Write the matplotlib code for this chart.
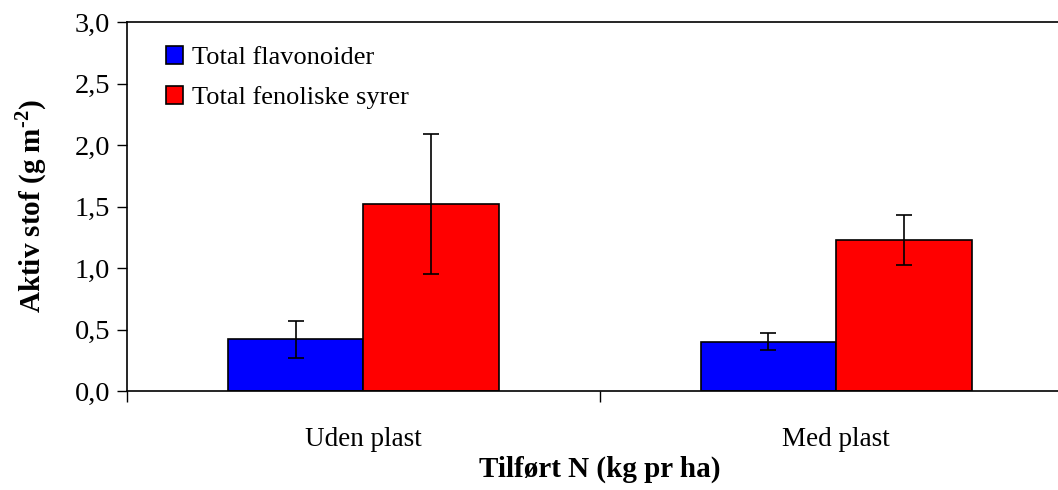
import numpy as np
import matplotlib
matplotlib.use("Agg")
import matplotlib.pyplot as plt
from matplotlib.ticker import FixedLocator, FuncFormatter

# data
categories = ["Uden plast", "Med plast"]
series = ["Total flavonoider", "Total fenoliske syrer"]
flavonoider = [0.42, 0.40]
flavonoider_err = [0.15, 0.07]
fenoliske = [1.52, 1.23]
fenoliske_err = [0.57, 0.205]
colors = ["#0000FF", "#FF0000"]

plt.rcParams["font.family"] = ["Liberation Serif", "DejaVu Serif"]
plt.rcParams["mathtext.fontset"] = "custom"
plt.rcParams["mathtext.rm"] = "Liberation Serif"
plt.rcParams["mathtext.bf"] = "Liberation Serif:bold"

fig = plt.figure(figsize=(10.58, 4.90), dpi=100)
ax = fig.add_axes([0.120, 0.202, 0.894, 0.753])

x = np.arange(len(categories)) + 0.5
w = 0.287
err_kw = dict(ecolor="black", elinewidth=1.2, capsize=6, capthick=1.2)
ax.bar(x - w / 2, flavonoider, w, yerr=flavonoider_err, color=colors[0],
       edgecolor="black", linewidth=1.2, label=series[0], error_kw=err_kw)
ax.bar(x + w / 2, fenoliske, w, yerr=fenoliske_err, color=colors[1],
       edgecolor="black", linewidth=1.2, label=series[1], error_kw=err_kw)

ax.set_xlim(0, 2)
ax.set_ylim(0, 3.0)
ax.set_yticks(np.arange(0, 3.01, 0.5))
ax.yaxis.set_major_formatter(FuncFormatter(lambda v, p: f"{v:.1f}".replace(".", ",")))
ax.xaxis.set_major_locator(FixedLocator([0, 1, 2]))
ax.xaxis.set_major_formatter(FuncFormatter(lambda v, p: ""))
ax.xaxis.set_minor_locator(FixedLocator(list(x)))
ax.set_xticklabels(categories, minor=True)
ax.tick_params(axis="x", which="major", direction="out", length=8, width=1)
ax.tick_params(axis="x", which="minor", length=0, pad=26, labelsize=19.5)
ax.tick_params(axis="y", direction="out", length=7, width=1, labelsize=20.5, pad=5)

for s in ax.spines.values():
    s.set_linewidth(1.2)

# hyphen (not minus) in the exponent, as in the original
ax.set_ylabel(r"Aktiv stof (g m$^{\mathbf{\u2010 2}}$)".replace(r"\u2010 ", "\u2010"),
              fontsize=21, fontweight="bold")
ax.yaxis.set_label_coords(-0.082, 0.5)
ax.set_xlabel("Tilført N (kg pr ha)", fontsize=21, fontweight="bold")
ax.xaxis.set_label_coords(0.5, -0.175)

leg = ax.legend(loc="upper left", bbox_to_anchor=(0.041, 0.935), frameon=False,
                fontsize=19, handlelength=0.65, handleheight=0.65,
                handletextpad=0.34, labelspacing=0.65, borderpad=0,
                borderaxespad=0)

fig.savefig("out.png", dpi=100)
